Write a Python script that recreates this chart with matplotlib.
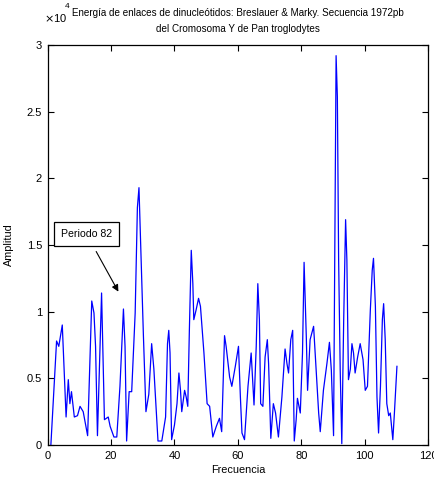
import matplotlib
matplotlib.use("Agg")
import matplotlib.pyplot as plt
from matplotlib import font_manager

# ---- data (amplitude in units of 1e4) ----
freq = [1.0, 2.8, 3.5, 4.6, 5.8, 6.5, 7.0, 7.5, 8.4, 9.4, 10.2, 11.2, 12.6, 13.9, 14.6,
        15.1, 15.7, 17.0, 17.9, 19.1, 19.7, 20.9, 21.8, 22.8, 23.9, 24.4, 24.9, 25.7,
        26.5, 27.6, 28.3, 28.8, 30.2, 31.0, 31.9, 32.8, 33.5, 34.8, 36.0, 37.2, 37.8,
        38.2, 38.6, 39.1, 40.0, 40.8, 41.4, 41.9, 42.3, 43.2, 43.7, 44.2, 44.7, 45.3,
        45.8, 46.1, 46.8, 47.6, 48.2, 49.3, 50.3, 51.1, 52.1, 53.2, 54.2, 54.9, 55.8,
        56.3, 57.4, 58.1, 59.2, 60.2, 60.8, 61.3, 62.1, 63.2, 64.2, 65.1, 65.8, 66.3,
        66.8, 67.2, 67.9, 68.6, 69.3, 69.7, 70.4, 71.2, 71.9, 72.8, 73.9, 74.9, 75.5,
        76.0, 76.7, 77.3, 77.8, 78.4, 78.8, 79.7, 80.4, 80.9, 81.6, 82.0, 82.8, 83.9,
        84.6, 85.5, 86.0, 87.0, 88.1, 88.9, 89.5, 90.2, 90.6, 91.0, 91.4, 91.8, 92.3,
        92.8, 93.4, 94.0, 94.4, 94.9, 95.5, 96.0, 96.5, 97.0, 97.8, 98.6, 99.5, 100.2,
        100.9, 101.8, 102.4, 102.8, 103.4, 103.9, 104.4, 105.0, 105.6, 106.0, 106.5,
        107.0, 107.6, 108.1, 108.9, 109.4, 110.2]
amplitude = [0.00, 0.78, 0.74, 0.90, 0.21, 0.49, 0.31, 0.40, 0.21, 0.22, 0.29, 0.25, 0.07,
             1.08, 0.99, 0.74, 0.07, 1.14, 0.19, 0.21, 0.14, 0.06, 0.06, 0.44, 1.02, 0.74,
             0.03, 0.40, 0.40, 0.99, 1.78, 1.93, 0.82, 0.25, 0.38, 0.76, 0.57, 0.03, 0.03,
             0.21, 0.76, 0.86, 0.69, 0.04, 0.15, 0.31, 0.54, 0.41, 0.25, 0.41, 0.36, 0.29,
             0.86, 1.46, 1.21, 0.94, 1.01, 1.10, 1.04, 0.69, 0.31, 0.29, 0.06, 0.14, 0.20,
             0.10, 0.82, 0.74, 0.51, 0.44, 0.59, 0.74, 0.36, 0.09, 0.04, 0.44, 0.69, 0.30,
             0.74, 1.21, 0.94, 0.31, 0.29, 0.66, 0.79, 0.61, 0.05, 0.31, 0.24, 0.06, 0.36,
             0.72, 0.61, 0.54, 0.79, 0.86, 0.03, 0.19, 0.35, 0.24, 0.69, 1.37, 0.81, 0.41,
             0.79, 0.89, 0.61, 0.24, 0.10, 0.41, 0.61, 0.77, 0.56, 0.07, 1.49, 2.92, 2.61,
             1.39, 0.56, 0.01, 0.94, 1.69, 1.39, 0.49, 0.57, 0.76, 0.69, 0.54, 0.66, 0.76,
             0.64, 0.41, 0.44, 1.01, 1.31, 1.40, 1.04, 0.36, 0.09, 0.44, 0.94, 1.06, 0.79,
             0.31, 0.22, 0.24, 0.04, 0.24, 0.59]
x_ticks = [0, 20, 40, 60, 80, 100, 120]
y_ticks = [0, 0.5, 1, 1.5, 2, 2.5, 3]
y_tick_labels = ["0", "0.5", "1", "1.5", "2", "2.5", "3"]

title_text = ("Energía de enlaces de dinucleótidos: Breslauer & Marky. Secuencia 1972pb\n"
              "del Cromosoma Y de Pan troglodytes")
annot_text = "Periodo 82"

names = {f.name for f in font_manager.fontManager.ttflist}
fam = ["Liberation Sans Narrow", "Liberation Sans", "DejaVu Sans"]
fam = [f for f in fam if f in names] or ["DejaVu Sans"]
plt.rcParams['font.family'] = fam

W, H = 435, 483
fig = plt.figure(figsize=(W / 100, H / 100), dpi=100)
ax = fig.add_axes([47.7 / W, 38 / H, 380.3 / W, 400 / H])
ax.plot(freq, amplitude, color="#0000ff", lw=0.9)

ax.set_xlim(0, 120)
ax.set_ylim(0, 3)
ax.set_xticks(x_ticks)
ax.set_xticklabels([str(t) for t in x_ticks])
ax.set_yticks(y_ticks)
ax.set_yticklabels(y_tick_labels)
ax.tick_params(direction="in", top=True, right=True, length=4, width=0.8,
               labelsize=8, pad=4)
for s in ax.spines.values():
    s.set_linewidth(0.9)

ax.set_xlabel("Frecuencia", fontsize=7.8, labelpad=3)
ax.set_ylabel("Amplitud", fontsize=7.8, labelpad=9)
ax.set_title(title_text, fontsize=7.1, pad=9, linespacing=1.8)

fig.text(44 / W, 1 - 18 / H, r"$\times$10", fontsize=8,
         ha="left", va="center")
fig.text(65 / W, 1 - 6 / H, "4", fontsize=6, ha="left", va="center")

ax.annotate(annot_text, xy=(22.3, 1.15), xytext=(12.3, 1.58),
            fontsize=7.6, ha="center", va="center",
            bbox=dict(boxstyle="square,pad=0.65", fc="white", ec="black", lw=0.9),
            arrowprops=dict(arrowstyle="-|>", color="black", lw=0.8,
                            mutation_scale=10, shrinkA=4, shrinkB=0))

fig.savefig("out.png", dpi=100)
